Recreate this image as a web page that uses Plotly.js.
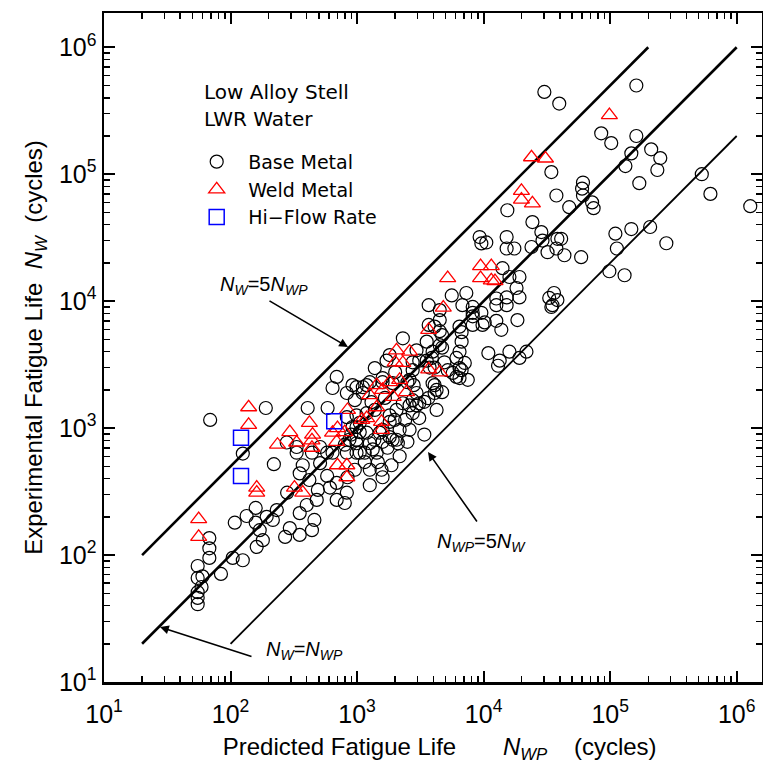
<!DOCTYPE html>
<html>
<head>
<meta charset="utf-8">
<script src="https://cdn.plot.ly/plotly-3.0.1.min.js"></script>
<style>
  html, body { margin: 0; padding: 0; background: #fff; }
  #chart { width: 763px; height: 770px; }
</style>
</head>
<body>
<div id="chart"></div>
<script>
// Base metal specimens: predicted life N_WP vs. experimental life N_W (cycles)
const baseX = [69,190,55,55,55,55,55,68,68,68,84,60,59,104,125,108,134,158,158,170,161,180,193,216,232,
  125,220,333,372,352,420,580,510,830,990,580,690,840,490,610,480,690,280,400,352,460,440,352,294,270,
  3680,4500,3680,4100,2300,1810,2950,3950,1710,2750,3550,2750,690,640,830,920,1110,1260,1590,2600,3950,4250,
  2750,2950,2300,407,585,830,990,1190,1810,2750,4250,990,1190,1510,1810,2050,2500,3400,640,1050,1430,278,333,
  440,510,870,990,1260,990,1190,1110,1590,1910,2500,2950,3100,3400,2600,2050,1810,2170,2600,1910,2100,2170,
  1870,1560,1590,1260,1260,1150,1330,1590,990,900,920,1050,1590,4700,4100,6450,7500,6450,5700,3740,3100,800,830,
  6800,8200,9600,12600,15200,12600,13800,9800,8200,6700,4500,4700,4500,3550,6700,6450,6100,4900,7100,6700,6100,
  5200,4100,4100,18500,10900,13400,13000,16000,19200,21800,35000,38300,34300,37600,47500,15400,24300,28600,29200,
  38300,37600,43500,32000,23900,17500,15200,15200,9300,9600,10500,14100,16000,19200,18200,19200,15200,12600,10200,
  8200,8200,7300,5600,6450,3900,33000,36000,34300,30200,39600,161000,85000,102000,161000,147000,132000,211000,
  249000,236000,170000,61000,60000,61000,72000,74000,530000,620000,1280000,207000,147000,110000,113000,278000,
  98600,130000,59000,41000,4500,4700,
  960,1300,1660,1380,1980,1050,1370,1740,800,1150,960,1460,2400,3100,3650,2800,2000,1380];
const baseY = [1160,1440,82,66,51,46,41,136,113,95,71,68,56,95,91,180,203,235,180,157,116,131,200,189,226,
  630,520,710,510,440,390,640,530,640,640,420,370,410,326,340,272,272,310,248,214,189,157,144,163,139,
  9300,8500,6500,6300,5100,3760,4100,4000,3400,3300,3400,2860,2530,2070,1890,2180,2100,2300,2300,2400,2260,2000,
  1660,1510,1570,1440,1440,1220,1260,1310,1260,1310,1390,1020,920,920,850,810,780,890,640,640,640,770,640,
  640,710,810,760,760,2100,2180,1890,2480,2260,2300,1890,1570,1610,1510,1390,1120,970,970,810,760,600,
  510,470,410,470,355,640,680,780,810,890,1020,1100,970,1920,1890,2970,2400,2480,2720,3000,3400,257,310,
  9300,8100,8100,9300,9300,7000,5950,6500,6500,5700,7100,5400,4500,4800,4800,4000,3570,3300,3260,2860,2530,
  2860,3000,2180,7100,3900,3400,3100,4000,3570,4000,9300,10200,104000,68000,55000,52000,42000,35000,30000,
  31000,26000,23000,24300,26700,26000,32000,26000,32000,28500,29000,18200,15500,15500,12700,10700,10700,10500,6800,
  7600,9000,11600,11100,6300,3570,10600,11600,9000,445000,360000,500000,210000,176000,200000,146000,116000,157000,
  134000,108000,85000,86000,77000,68000,60000,54000,100000,70000,56000,38400,37000,34000,26000,28600,
  17200,16000,22200,31000,5800,4300,
  1660,1600,1730,1390,1160,930,810,700,740,540,470,540,1160,1200,1720,2180,2760,2970];

// Weld metal specimens
const weldX = [98600,23900,30800,19900,19900,24300,9460,11500,9460,11500,12300,5200,4800,3680,3680,4500,2050,2600,
  2000,2300,1430,1810,2170,1590,1260,1930,2460,1430,840,1190,1090,1560,1560,700,640,800,690,420,294,445,440,440,
  333,235,830,830,700,161,161,320,372,56,56,139,139];
const weldY = [292000,136000,133000,74000,63000,59000,18900,18900,15200,14600,14400,15200,8900,5950,2900,2750,4100,4000,
  3300,3260,2180,2300,2400,2000,1820,1760,1920,1460,1390,1200,1160,1120,970,1000,920,930,780,1100,930,890,800,700,
  770,740,510,410,510,340,310,340,310,192,139,1460,1060];

// High flow rate tests
const flowX = [121,121,660];
const flowY = [840,420,1130];

// Reference lines: N_W = 5 N_WP, N_W = N_WP, N_WP = 5 N_W
const upperX = [20, 200000],  upperY = [100, 1000000];
const equalX = [20, 1000000], equalY = [20, 1000000];
const lowerX = [100, 1000000], lowerY = [20, 200000];

// Axis ticks
const decadeVals = [10, 100, 1000, 10000, 100000, 1000000];
const decadeText = ['10<sup>1</sup>','10<sup>2</sup>','10<sup>3</sup>','10<sup>4</sup>','10<sup>5</sup>','10<sup>6</sup>'];

const minorVals = [];
for (let d = 10; d <= 1000000; d *= 10) {
  for (let m = 2; m <= 9; m++) minorVals.push(m * d);
}

const AX_FONT = 'Liberation Sans, Arial, sans-serif';
const LEG_FONT = 'DejaVu Sans, Verdana, sans-serif';

const traces = [
  { x: upperX, y: upperY, mode: 'lines', line: { color: '#000', width: 2.6 }, showlegend: false, hoverinfo: 'skip' },
  { x: equalX, y: equalY, mode: 'lines', line: { color: '#000', width: 2.6 }, showlegend: false, hoverinfo: 'skip' },
  { x: lowerX, y: lowerY, mode: 'lines', line: { color: '#000', width: 1.8 }, showlegend: false, hoverinfo: 'skip' },
  { x: baseX, y: baseY, mode: 'markers', name: 'Base Metal',
    marker: { symbol: 'circle-open', size: 13, color: '#000', line: { width: 1.2, color: '#000' } } },
  { x: weldX, y: weldY, mode: 'markers', name: 'Weld Metal',
    marker: { symbol: 'triangle-up-open', size: 14, color: '#ff0000', line: { width: 1.3, color: '#ff0000' } } },
  { x: flowX, y: flowY, mode: 'markers', name: 'Hi\u2212Flow Rate',
    marker: { symbol: 'square-open', size: 15, color: '#0000ff', line: { width: 1.5, color: '#0000ff' } } }
];

function axisBase() {
  return {
    type: 'log',
    showline: true, linecolor: '#000', linewidth: 2.5, mirror: 'ticks',
    ticks: 'inside', ticklen: 11, tickwidth: 2, tickcolor: '#000',
    tickmode: 'array', tickvals: decadeVals, ticktext: decadeText,
    tickfont: { family: AX_FONT, size: 25, color: '#000' },
    minor: { ticks: 'inside', ticklen: 6, tickwidth: 1.5, tickcolor: '#000', tickmode: 'array', tickvals: minorVals },
    showgrid: false, zeroline: false
  };
}

const xaxis = Object.assign(axisBase(), {
  range: [1, 6.2],
  ticklabelstandoff: 8,
  title: { text: '&nbsp;&nbsp;Predicted Fatigue Life&nbsp;&nbsp;&nbsp;&nbsp;&nbsp;&nbsp;&nbsp;<i>N</i><sub><i>WP</i></sub>&nbsp;&nbsp;&nbsp;&nbsp;(cycles)',
           font: { family: AX_FONT, size: 24, color: '#000' }, standoff: 12 }
});
const yaxis = Object.assign(axisBase(), {
  range: [1, 6.27],
  title: { text: 'Experimental Fatigue Life&nbsp;&nbsp;<i>N</i><sub><i>W</i></sub>&nbsp;&nbsp;(cycles)',
           font: { family: AX_FONT, size: 24, color: '#000' }, standoff: 10 }
});

const eqFont = { family: AX_FONT, size: 20, color: '#000' };
const annotations = [
  { xref: 'paper', yref: 'paper', x: 0.149, y: 0.882, xanchor: 'left', yanchor: 'middle', showarrow: false,
    text: 'Low Alloy Stell', font: { family: LEG_FONT, size: 20, color: '#000' } },
  { xref: 'paper', yref: 'paper', x: 0.149, y: 0.8416, xanchor: 'left', yanchor: 'middle', showarrow: false,
    text: 'LWR Water', font: { family: LEG_FONT, size: 20, color: '#000' } },
  // arrows pointing at the reference lines
  { xref: 'paper', yref: 'paper', x: 0.3708, y: 0.5007, ax: -80, ay: -47, text: '', showarrow: true,
    arrowhead: 2, arrowsize: 1.1, arrowwidth: 1.6, arrowcolor: '#000' },
  { xref: 'paper', yref: 'paper', x: 0.4924, y: 0.3438, ax: 50, ay: 71, text: '', showarrow: true,
    arrowhead: 2, arrowsize: 1.1, arrowwidth: 1.6, arrowcolor: '#000' },
  { xref: 'paper', yref: 'paper', x: 0.0851, y: 0.0822, ax: 93, ay: 30, text: '', showarrow: true,
    arrowhead: 2, arrowsize: 1.1, arrowwidth: 1.6, arrowcolor: '#000' },
  // line labels
  { xref: 'paper', yref: 'paper', x: 0.2432, y: 0.5934, xanchor: 'center', yanchor: 'middle', showarrow: false, font: eqFont,
    text: '<i>N</i><sub><i>W</i></sub>=5<i>N</i><sub><i>WP</i></sub>' },
  { xref: 'paper', yref: 'paper', x: 0.573, y: 0.2078, xanchor: 'center', yanchor: 'middle', showarrow: false, font: eqFont,
    text: '<i>N</i><sub><i>WP</i></sub>=5<i>N</i><sub><i>W</i></sub>' },
  { xref: 'paper', yref: 'paper', x: 0.304, y: 0.0478, xanchor: 'center', yanchor: 'middle', showarrow: false, font: eqFont,
    text: '<i>N</i><sub><i>W</i></sub>=<i>N</i><sub><i>WP</i></sub>' }
];

const layout = {
  width: 763, height: 770,
  margin: { l: 104, r: 1, t: 13, b: 88, pad: 0 },
  paper_bgcolor: '#fff', plot_bgcolor: '#fff',
  xaxis: xaxis, yaxis: yaxis,
  showlegend: true,
  legend: { x: 0.1234, y: 0.806, xanchor: 'left', yanchor: 'top', bgcolor: 'rgba(0,0,0,0)',
            font: { family: LEG_FONT, size: 19, color: '#000' }, tracegroupgap: 0, itemwidth: 53 },
  annotations: annotations
};

Plotly.newPlot('chart', traces, layout, { displayModeBar: false, staticPlot: true });
</script>
</body>
</html>
